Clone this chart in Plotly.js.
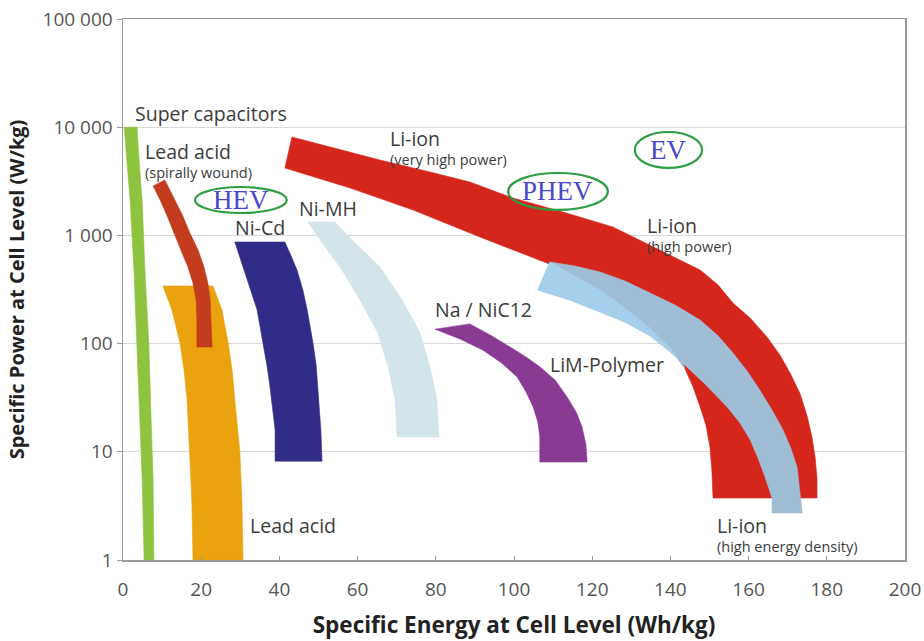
<!DOCTYPE html>
<html>
<head>
<meta charset="utf-8">
<script src="https://cdn.plot.ly/plotly-3.0.1.min.js"></script>
<style>html,body{margin:0;padding:0;background:#fff;}#chart{width:924px;height:641px;}</style>
</head>
<body>
<div id="chart"></div>
<script>
// ---- Data: two edges of each technology region (Specific energy Wh/kg, Specific power W/kg) ----
// Super capacitors
const superCapLeftEnergy  = [0.3, 1.0, 1.8, 2.8, 3.6, 4.3, 4.9, 5.4];
const superCapRightEnergy = [3.6, 4.1, 4.9, 5.6, 6.6, 7.2, 7.7, 7.9];
const superCapPower       = [10000, 4975, 2125, 479, 101, 19.7, 5.49, 1];
// Lead acid
const leadAcidLeftEnergy  = [10.2, 12.5, 14.6, 15.6, 16.4, 17.1, 17.6, 17.9];
const leadAcidRightEnergy = [23.0, 25.3, 26.9, 27.9, 28.6, 29.9, 30.4, 30.7];
const leadAcidPower       = [341, 205, 101, 57, 30, 9.7, 3.59, 1];
// Lead acid (spirally wound)
const leadSpiralLeftEnergy  = [7.7, 9.5, 11.3, 13.0, 14.8, 16.6, 17.9, 18.7, 18.9, 18.9];
const leadSpiralLeftPower   = [2862, 2125, 1511, 1052, 733, 511, 363, 253, 165, 93];
const leadSpiralRightEnergy = [10.7, 13.3, 15.3, 17.1, 19.2, 20.7, 21.7, 22.3, 22.5, 22.8];
const leadSpiralRightPower  = [3250, 2125, 1511, 1052, 733, 511, 363, 253, 165, 93];
// Ni-Cd
const niCdLeftEnergy  = [28.6, 30.7, 32.7, 34.3, 35.8, 36.8, 37.6, 38.4, 38.9, 38.9];
const niCdLeftPower   = [869, 511, 313, 205, 101, 63.4, 39.7, 24.3, 15.9, 8.2];
const niCdRightEnergy = [41.4, 43.0, 44.5, 46.0, 47.1, 48.6, 49.4, 49.9, 50.6, 50.9];
const niCdRightPower  = [869, 645, 479, 313, 205, 101, 63.4, 39.7, 15.9, 8.2];
// Ni-MH
const niMhLeftEnergy  = [47.3, 50.4, 55.5, 60.6, 65.2, 67.8, 69.6, 70.1];
const niMhRightEnergy = [54.2, 58.6, 65.7, 71.4, 76.0, 78.5, 80.3, 80.8];
const niMhPower       = [1330, 906, 511, 253, 125, 61, 30, 13.7];
// Na / NiCl2
const naNiClOuterEnergy = [88.7, 93.9, 99.0, 103.1, 106.6, 110.5, 113.6, 115.9, 117.4, 118.4, 118.7];
const naNiClOuterPower  = [152, 120, 93, 75, 61, 46, 32, 23.3, 17, 11.6, 8.05];
const naNiClInnerEnergy = [79.8, 86.2, 92.1, 96.9, 100.8, 103.1, 104.9, 106.1, 106.6, 106.6];
const naNiClInnerPower  = [136, 110, 87, 66, 49, 35.7, 26, 18.9, 13.7, 8.05];
// Li-ion (very high power -> high power)
const liIonPowerUpperEnergy = [43.2, 52.9, 65.7, 78.5, 88.7, 99.7, 112.5, 125.3, 135.5, 142.5, 147.6, 152.2,
                               156.0, 160.4, 164.7, 168.0, 170.6, 173.1, 174.9, 176.2, 177.0, 177.5, 177.5];
const liIonPowerUpperPower  = [8110, 6560, 4975, 3855, 3117, 2217, 1645, 1196, 781, 593, 479, 348,
                               237, 172.5, 115, 78.5, 53.5, 34.9, 21.9, 13.7, 9.0, 5.73, 3.74];
const liIonPowerLowerEnergy = [41.4, 58.1, 74.2, 91.3, 108.4, 115.6, 122.0, 128.4, 134.8, 139.9, 143.7,
                               145.8, 147.6, 149.1, 150.1, 150.6, 150.9];
const liIonPowerLowerPower  = [4200, 2742, 1718, 966, 556, 422, 313, 213, 139, 91, 59,
                               39.7, 26, 17.7, 11.1, 6.79, 3.74];
// Li-ion (high energy density)
const liIonEnergyUpperEnergy = [109.2, 115.6, 122.0, 128.4, 134.8, 141.2, 147.6, 152.2, 156.0, 159.6, 162.9,
                                166.0, 168.8, 170.8, 172.4, 173.1, 173.7];
const liIonEnergyUpperPower  = [568, 521, 459, 379, 294, 227, 165, 118, 82, 55.8, 37,
                                24.3, 15.9, 10.8, 7.2, 4.43, 2.72];
const liIonEnergyLowerEnergy = [106.1, 114.3, 122.0, 128.4, 134.8, 139.1, 143.2, 149.1, 154.5, 157.8, 160.4,
                                162.4, 164.2, 166.0, 166.0];
const liIonEnergyLowerPower  = [313, 253, 196, 158.5, 118, 89, 66, 41.4, 26, 18.5, 12.9,
                                8.77, 5.85, 3.74, 2.72];
// part of the high-energy Li-ion band lying outside the high-power band
const liIonOuterTopEnergy = [109.2, 115.6, 122.0, 128.4, 134.8, 139.9, 143.7];
const liIonOuterTopPower  = [568, 422, 313, 213, 139, 91, 59];
const liIonOuterBotEnergy = [106.1, 114.3, 122.0, 128.4, 134.8, 139.1, 143.2];
const liIonOuterBotPower  = [313, 253, 196, 158.5, 118, 89, 66];

// ---- Tick labels ----
const yTickVals = [1, 10, 100, 1000, 10000, 100000];
const yTickText = ['1', '10', '100', '1 000', '10 000', '100 000'];

// ---- Region labels ----
const labelTexts = ['Super capacitors', 'Lead acid', '(spirally wound)', 'Ni-Cd', 'Ni-MH', 'Li-ion',
  '(very high power)', 'Li-ion', '(high power)', 'Na / NiC12', 'LiM-Polymer', 'Lead acid', 'Li-ion',
  '(high energy density)'];
const labelEnergy = [2.6, 5.1, 5.1, 28.1, 44.5, 67.8, 67.8, 133.5, 133.5, 79.3, 108.7, 32.0, 151.4, 151.4];
const labelLogPower = [4.131, 3.780, 3.577, 3.070, 3.253, 3.891, 3.706, 3.087, 2.893, 2.311, 1.811, 0.323, 0.323, 0.129];
const labelSmall = [false, false, true, false, false, false, true, false, true, false, false, false, false, true];

// ---- Vehicle classes ----
const vehicleNames = ['HEV', 'PHEV', 'EV'];
const vehicleEnergy0 = [18.4, 98.5, 130.9];
const vehicleEnergy1 = [41.9, 124.0, 148.1];
const vehiclePower0 = [1611, 1718, 4200];
const vehiclePower1 = [2800, 3775, 9030];

// a closed region: first edge in order, second edge reversed (both edges given in the same direction)
function band(x1, y1, x2, y2, color) {
  const x = x1.concat(x2.slice().reverse(), [x1[0]]);
  const y = y1.concat(y2.slice().reverse(), [y1[0]]);
  return {
    type: 'scatter', mode: 'lines', x: x, y: y,
    fill: 'toself', fillcolor: color, line: {color: color, width: 0.6},
    hoverinfo: 'skip', showlegend: false
  };
}

const traces = [
  band(superCapLeftEnergy, superCapPower, superCapRightEnergy, superCapPower, '#8dc43f'),
  band(leadAcidLeftEnergy, leadAcidPower, leadAcidRightEnergy, leadAcidPower, '#eaa20e'),
  band(leadSpiralLeftEnergy, leadSpiralLeftPower, leadSpiralRightEnergy, leadSpiralRightPower, '#c23c1d'),
  band(niCdLeftEnergy, niCdLeftPower, niCdRightEnergy, niCdRightPower, '#312c88'),
  band(niMhLeftEnergy, niMhPower, niMhRightEnergy, niMhPower, '#d3e4ea'),
  band(naNiClInnerEnergy, naNiClInnerPower, naNiClOuterEnergy, naNiClOuterPower, '#893a93'),
  band(liIonPowerUpperEnergy, liIonPowerUpperPower, liIonPowerLowerEnergy, liIonPowerLowerPower, '#d4261b'),
  band(liIonEnergyUpperEnergy, liIonEnergyUpperPower, liIonEnergyLowerEnergy, liIonEnergyLowerPower, '#a0bdd6'),
  band(liIonOuterTopEnergy, liIonOuterTopPower, liIonOuterBotEnergy, liIonOuterBotPower, '#a6cfee')
];

const annotations = labelTexts.map((t, i) => ({
  text: t, x: labelEnergy[i], y: labelLogPower[i], xref: 'x', yref: 'y',
  xanchor: 'left', yanchor: 'middle', showarrow: false,
  font: {family: 'Open Sans, sans-serif', size: labelSmall[i] ? 14.5 : 19.5, color: '#3c3c3c'}
}));

const shapes = [];
vehicleNames.forEach((n, i) => {
  shapes.push({
    type: 'circle', xref: 'x', yref: 'y',
    x0: vehicleEnergy0[i], x1: vehicleEnergy1[i], y0: vehiclePower0[i], y1: vehiclePower1[i],
    line: {color: '#2e9e45', width: 2.2}, fillcolor: 'rgba(0,0,0,0)', layer: 'above'
  });
  annotations.push({
    text: n, x: (vehicleEnergy0[i] + vehicleEnergy1[i]) / 2,
    y: (Math.log10(vehiclePower0[i]) + Math.log10(vehiclePower1[i])) / 2,
    xref: 'x', yref: 'y', showarrow: false, xanchor: 'center', yanchor: 'middle',
    font: {family: 'Liberation Serif, Times New Roman, serif', size: 27, color: '#4848cc'}
  });
});

const layout = {
  width: 924, height: 641,
  margin: {l: 123, r: 19, t: 19, b: 81},
  paper_bgcolor: '#ffffff', plot_bgcolor: '#ffffff',
  showlegend: false,
  xaxis: {
    range: [0, 200], dtick: 20, tick0: 0,
    showgrid: false, zeroline: false,
    showline: true, linecolor: '#9a9a9a', linewidth: 1.5, mirror: true,
    ticks: 'inside', ticklen: 4, tickcolor: '#9a9a9a',
    ticklabelstandoff: 12,
    tickfont: {family: 'Open Sans, sans-serif', size: 19, color: '#555'},
    title: {text: 'Specific Energy at Cell Level (Wh/kg)', standoff: 16,
            font: {family: 'Open Sans, sans-serif', size: 22.5, color: '#222', weight: 'bold'}}
  },
  yaxis: {
    type: 'log', range: [0, 5],
    tickvals: yTickVals, ticktext: yTickText,
    showgrid: true, gridcolor: '#d9d9d9', gridwidth: 1, zeroline: false,
    showline: true, linecolor: '#9a9a9a', linewidth: 1.5, mirror: true,
    ticks: 'outside', ticklen: 5, tickcolor: '#9a9a9a',
    tickfont: {family: 'Open Sans, sans-serif', size: 19, color: '#555'},
    title: {text: 'Specific Power at Cell Level (W/kg)', standoff: 12,
            font: {family: 'Open Sans, sans-serif', size: 20, color: '#222', weight: 'bold'}}
  },
  shapes: shapes,
  annotations: annotations
};

Plotly.newPlot('chart', traces, layout, {displayModeBar: false, staticPlot: true});
</script>
</body>
</html>
